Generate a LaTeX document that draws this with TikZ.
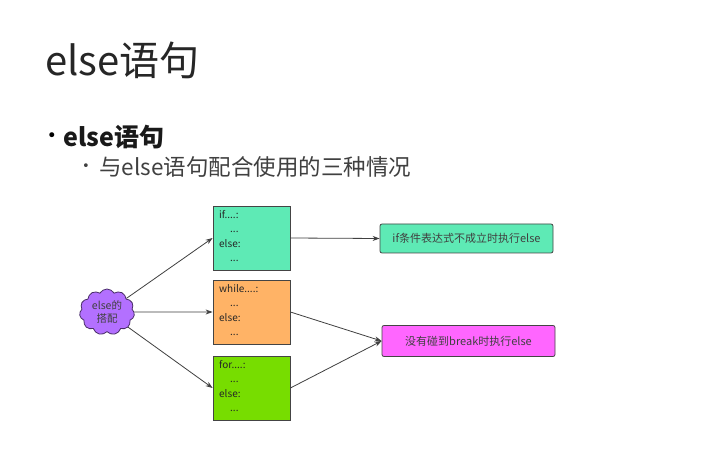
\documentclass[tikz,border=0pt]{standalone}
\usepackage{fontspec}
\setmainfont{Noto Sans CJK SC}
\newfontfamily\bulfont{DejaVu Sans}
\usetikzlibrary{shapes.symbols,arrows.meta}
\definecolor{turq}{HTML}{5EEAB5}
\definecolor{orng}{HTML}{FFB366}
\definecolor{lgrn}{HTML}{77DD00}
\definecolor{magn}{HTML}{FF66FF}
\definecolor{purp}{HTML}{B370FF}
\definecolor{edge}{HTML}{444444}
\begin{document}
\begin{tikzpicture}[x=1pt,y=-1pt,
  codebox/.style={draw=edge,line width=0.8pt,minimum width=77pt,minimum height=64pt,inner sep=0pt},
  codetxt/.style={anchor=north west,align=left,inner sep=0pt,font=\fontsize{10}{14.5}\selectfont,text=black!85},
  resbox/.style={draw=edge,line width=0.8pt,rounded corners=2pt,minimum height=29pt,inner sep=0pt,font=\fontsize{11}{13}\selectfont,text=black!75},
  arr/.style={draw=black!75,line width=0.8pt,-{Stealth[length=7pt,width=5pt]}}]
\path[use as bounding box,fill=white] (0,0) rectangle (701,470);
\node[anchor=west,inner sep=0pt,font=\fontsize{40}{44}\selectfont,text=black!85] (title) at (45,60) {else语句};
\node[inner sep=0pt,font=\bulfont\fontsize{17}{20}\selectfont] (b1) at (52,137) {•};
\node[anchor=west,inner sep=0pt,font=\fontsize{25}{28}\selectfont\bfseries,text=black!90] (l1) at (63,137) {else语句};
\node[inner sep=0pt,font=\bulfont\fontsize{13}{16}\selectfont,text=black!75] (b2) at (86,167) {•};
\node[anchor=west,inner sep=0pt,font=\fontsize{22.5}{25}\selectfont,text=black!75] (l2) at (99,167) {与else语句配合使用的三种情况};

\node[codebox,fill=turq] (ifb) at (251.5,238) {};
\node[codebox,fill=orng] (whb) at (251.5,312) {};
\node[codebox,fill=lgrn] (forb) at (251.5,388) {};
\node[codetxt] (ift) at (219,210) {if....:\\\hspace{11pt}...\\else:\\\hspace{11pt}...};
\node[codetxt] (wht) at (219,284) {while....:\\\hspace{11pt}...\\else:\\\hspace{11pt}...};
\node[codetxt] (fort) at (219,360) {for....:\\\hspace{11pt}...\\else:\\\hspace{11pt}...};

\node[cloud,cloud puffs=11,cloud puff arc=120,aspect=1.2,draw=black!60!purp,fill=purp,line width=0.8pt,minimum width=55pt,minimum height=46pt,inner sep=0pt,align=center,font=\fontsize{10.5}{13}\selectfont,text=black!75] (cl) at (107,312) {else的\\搭配};

\node[resbox,fill=turq,minimum width=173pt] (r1) at (466.5,238.5) {if条件表达式不成立时执行else};
\node[resbox,fill=magn,minimum width=173pt,minimum height=31pt] (r2) at (468.5,341) {没有碰到break时执行else};

\draw[arr] (cl) -- (ifb.west);
\draw[arr] (cl) -- (whb.west);
\draw[arr] (cl) -- (forb.west);
\draw[arr] (ifb.east) -- (r1.west);
\draw[arr] (whb.east) -- (r2.west);
\draw[arr] (forb.east) -- (r2.west);
\end{tikzpicture}
\end{document}
